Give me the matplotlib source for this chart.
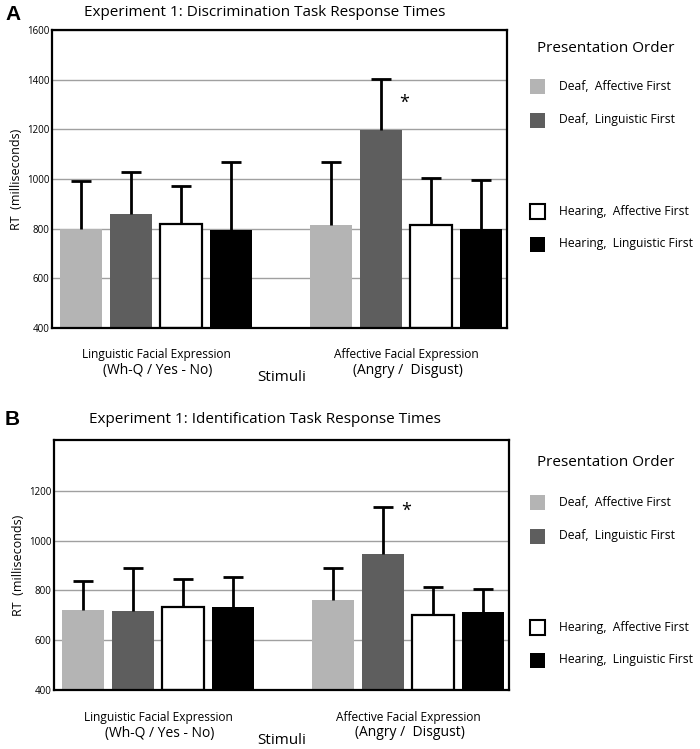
import matplotlib
matplotlib.use("Agg")
import matplotlib.pyplot as plt
from matplotlib.patches import Rectangle

plt.rcParams["font.family"] = ["Open Sans", "DejaVu Sans"]

# groups and conditions
groups = ["Linguistic Facial Expression\n(Wh-Q / Yes - No)",
          "Affective Facial Expression\n(Angry /  Disgust)"]
conditions = ["Deaf,  Affective First", "Deaf,  Linguistic First",
              "Hearing,  Affective First", "Hearing,  Linguistic First"]

# panel A: discrimination task (mean RT, upper error bar top)
disc_mean = [800, 860, 820, 795, 815, 1198, 813, 800]
disc_top = [993, 1027, 971, 1069, 1068, 1403, 1004, 997]

# panel B: identification task
ident_mean = [723, 716, 734, 734, 760, 946, 702, 713]
ident_top = [840, 889, 848, 856, 890, 1134, 813, 807]

FACE = ["#b4b4b4", "#5e5e5e", "white", "black"]
EDGE = ["#b4b4b4", "#5e5e5e", "black", "black"]
POS = [0, 1, 2, 3, 5, 6, 7, 8]

W, H = 700, 749
fig = plt.figure(figsize=(W / 100, H / 100), dpi=100)


def fx(px):
    return px / W


def fy(py):
    return 1 - py / H


def draw_panel(rect, mean, top, ylim, yticks, title, letter, title_y, leg_ys, star_xy):
    ax = fig.add_axes(rect)
    ax.set_xlim(-0.58, 8.52)
    ax.set_ylim(*ylim)
    ax.set_yticks(yticks)
    ax.tick_params(axis="y", length=0, labelsize=7, pad=2)
    ax.set_xticks([])
    ax.yaxis.grid(True, color="#a0a0a0", lw=1.0)
    ax.set_axisbelow(True)
    for s in ax.spines.values():
        s.set_linewidth(1.6)
    for i, (p, m, t) in enumerate(zip(POS, mean, top)):
        k = i % 4
        ax.bar(p, m - ylim[0], bottom=ylim[0], width=0.84, color=FACE[k],
               edgecolor=EDGE[k], linewidth=1.6 if k == 2 else 0, zorder=2)
        # one-sided error bar: stem from bar top, cap at the upper end only
        ax.vlines(p, m, t, color="black", lw=2.0, zorder=3)
        ax.hlines(t, p - 0.2, p + 0.2, color="black", lw=2.0, zorder=3)
    ax.text(star_xy[0], star_xy[1], "*", fontsize=13, ha="center", va="center",
            transform=ax.transData)
    ax.set_ylabel("RT  (milliseconds)", fontsize=9, labelpad=3)

    # category labels below axes
    bottom_px = (1 - rect[1]) * H
    for c, g in zip([1.5, 6.5], groups):
        l1, l2 = g.split("\n")
        xc = ax.transData.transform((c, 0))[0] / (fig.dpi * fig.get_figwidth())
        fig.text(xc, fy(bottom_px + 27), l1, fontsize=8.6, ha="center", va="center")
        fig.text(xc + fx(2), fy(bottom_px + 43), l2, fontsize=10, ha="center", va="center")
    fig.text(fx(282), fy(bottom_px + 50), "Stimuli", fontsize=11, ha="center", va="center")

    fig.text(fx(265), fy(title_y), title, fontsize=11, ha="center", va="center")
    fig.text(fx(5), fy(title_y + 1), letter, fontsize=15, fontweight="bold",
             ha="left", va="center", family="Liberation Sans")

    # legend
    fig.text(fx(606), fy(leg_ys[0]), "Presentation Order", fontsize=11,
             ha="center", va="center")
    for k, yy in enumerate(leg_ys[1:]):
        fig.add_artist(Rectangle((fx(530), fy(yy + 8)), 15 / W, 15 / H,
                                 transform=fig.transFigure, facecolor=FACE[k],
                                 edgecolor=EDGE[k], lw=1.5 if k == 2 else 0))
        fig.text(fx(559), fy(yy), conditions[k], fontsize=8.7, ha="left", va="center")
    return ax


ax_a = draw_panel([fx(52), fy(328), fx(507) - fx(52), fy(30) - fy(328)],
                  disc_mean, disc_top, (400, 1600), range(400, 1601, 200),
                  "Experiment 1: Discrimination Task Response Times", "A", 13,
                  [48, 86, 120, 211, 244], (6.47, 1305))
ax_b = draw_panel([fx(54), fy(690), fx(509) - fx(54), fy(440) - fy(690)],
                  ident_mean, ident_top, (400, 1405), range(400, 1201, 200),
                  "Experiment 1: Identification Task Response Times", "B", 419,
                  [463, 502, 536, 627, 660], (6.47, 1120))

fig.savefig("out.png", dpi=100)
